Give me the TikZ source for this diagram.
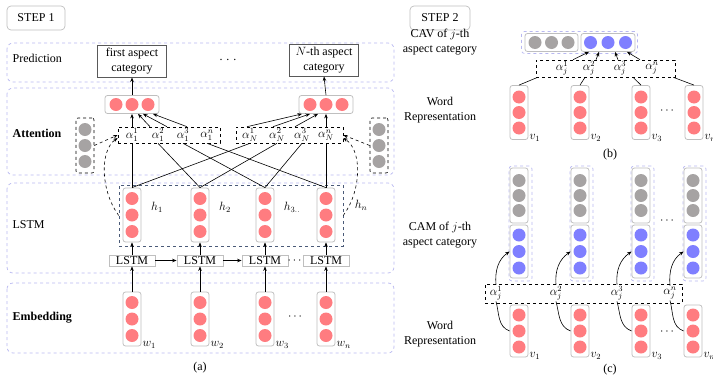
\documentclass[tikz,border=0pt]{standalone}
\usepackage{fontspec}
\setmainfont{Liberation Serif}
\usepackage{amsmath}
\usetikzlibrary{positioning,calc,arrows.meta}

\definecolor{cellred}{HTML}{FF7C80}
\definecolor{cellgray}{HTML}{A6A3A3}
\definecolor{cellblue}{HTML}{7F7FFF}
\definecolor{panelblue}{HTML}{B8B8F0}
\definecolor{boxgray}{HTML}{BFBFBF}
\definecolor{hidblue}{HTML}{4A5A78}

\newcommand{\vcells}[3]{\foreach \k in {-1,0,1}{\fill[#2] ([yshift=\k*#3]#1.center) circle (6.5pt);}}
\newcommand{\hcells}[3]{\foreach \k in {-1,0,1}{\fill[#2] ([xshift=\k*#3]#1.center) circle (6.5pt);}}

\tikzset{
  panel/.style={draw=panelblue,dashed,line width=0.7pt,rounded corners=6pt},
  outerbox/.style={draw=panelblue,dashed,line width=0.7pt,rounded corners=3pt,inner sep=0pt},
  colbox/.style={draw=boxgray,line width=0.8pt,rounded corners=2.5pt,minimum width=18pt,minimum height=54pt,inner sep=0pt},
  rowbox/.style={draw=boxgray,line width=0.8pt,rounded corners=2.5pt,minimum width=54pt,minimum height=18pt,inner sep=0pt},
  gcol/.style={draw=black,dashed,line width=0.6pt,rounded corners=2pt,minimum width=18pt,minimum height=55pt,inner sep=0pt},
  attbox/.style={draw,dashed,line width=0.6pt,minimum height=16pt,inner sep=0pt},
  stepbox/.style={draw=boxgray,line width=0.7pt,rounded corners=4pt,minimum width=58pt,minimum height=24pt},
  predbox/.style={draw=black!65,line width=1pt,align=center,inner sep=2pt,minimum width=69pt,minimum height=32pt},
  lstmbox/.style={draw=boxgray,line width=0.8pt,minimum width=46pt,minimum height=11pt,inner sep=0.5pt},
  lbl/.style={inner sep=1pt},
}

\begin{document}
\begin{tikzpicture}[x=1pt,y=-1pt,font=\fontsize{12}{14.5}\selectfont,
    >={Stealth[length=4.5pt,width=3.5pt]},line width=0.6pt]
\useasboundingbox (0,0) rectangle (713,378);

% ---- step 1
\node[stepbox] (step1) at (36,18) {STEP 1};
\draw[panel] (7,43) rectangle (394,82);
\draw[panel] (7,88) rectangle (394,175);
\draw[panel] (7,183) rectangle (394,273);
\draw[panel] (7,283) rectangle (394,353);
\node[anchor=west] (predlbl) at (9,58) {Prediction};
\node[anchor=west] (attlbl) at (9,133) {\textbf{Attention}};
\node[anchor=west] (lstmlbl) at (9,225) {LSTM};
\node[anchor=west] (emblbl) at (9,318) {\textbf{Embedding}};

\node[predbox] (p1) at (132,61) {first aspect\\category};
\node[predbox] (pN) at (324,60) {$N$-th aspect\\category};
\node (pdots) at (228,60) {.\,\,.\,\,.};

\node[rowbox] (o1) at (132,104.5) {};
\hcells{o1}{cellred}{16pt}
\node[rowbox] (oN) at (326,104.5) {};
\hcells{oN}{cellred}{16pt}
\draw[->] (o1.north) -- (p1.south);
\draw[->] (oN.north) -- (pN.south);

% attention weights
\node[attbox,minimum width=102pt] (att1) at (169,135) {};
\node[attbox,minimum width=107pt] (attN) at (289.5,135) {};
\foreach \x/\s [count=\i] in {132/1,158/2,183/3,207/n}
  \node[lbl] (a1\i) at (\x,135) {$\alpha_1^{\s}$};
\foreach \x/\s [count=\i] in {250/1,277/2,302/3,326/n}
  \node[lbl] (aN\i) at (\x,135) {$\alpha_N^{\s}$};

\node[gcol] (g1) at (85,145.5) {};
\vcells{g1}{cellgray}{16pt}
\node[gcol] (gN) at (379,145.5) {};
\vcells{gN}{cellgray}{16pt}
\draw[dashed,->] (g1.east) -- (att1.west);
\draw[dashed,->] (gN.west) -- (attN.east);

% lstm layer
\node[draw=hidblue,dashed,line width=0.6pt,minimum width=224pt,minimum height=61pt,inner sep=0pt] (hid) at (231,215.5) {};
\foreach \x/\s [count=\i] in {132/1,200/2,265/3,326/n} {
  \node[colbox] (h\i) at (\x,215) {};
  \vcells{h\i}{cellred}{16.5pt}
  \node[lstmbox] (l\i) at (\x,260.5) {LSTM};
  \node[colbox] (w\i) at (\x,319) {};
  \vcells{w\i}{cellred}{16.5pt}
  \node[anchor=base west,lbl] (wl\i) at (w\i.south east) {$w_{\s}$};
  \draw[->] (l\i) -- (h\i);
  \draw[->] (w\i) -- (l\i);
}
\node (hl1) at (157,207) {$h_1$};
\node (hl2) at (225,207) {$h_2$};
\node (hl3) at (292,207) {$h_{3..}$};
\node (hl4) at (361,205) {$h_n$};
\draw[->] (l1) -- (l2);
\draw[->] (l2) -- (l3);
\node[inner sep=0pt] (ldots) at (295.5,261) {$\cdots$};
\node (wdots) at (296,317) {$\cdots$};

% h -> weights
\foreach \i in {1,...,4} {
  \draw (h\i.north) -- (a1\i |- att1.south);
  \draw (h\i.north) -- (aN\i |- attN.south);
}
\draw[->] (a11 |- att1.north) -- (o1.south);
\foreach \i/\dx/\ex in {2/-8/6,3/-16/11,4/-20/21}
  \draw[->] ($(a1\i |- att1.north)+(\dx,0)$) -- ($(o1.south)+(\ex,0)$);
\foreach \i/\dx/\ex in {1/-3/-24,2/-4/-16,3/-7/-8,4/0/0}
  \draw[->] ($(aN\i |- attN.north)+(\dx,0)$) -- ($(oN.south)+(\ex,0)$);

\draw[dashed,->] (hid.west) .. controls (100,190) and (100,150) .. ($(att1.west)+(0,3)$);
\draw[dashed,->] (hid.east) .. controls (362,190) and (362,150) .. ($(attN.east)+(0,3)$);

\node (capa) at (200,368) {(a)};

% ---- step 2
\node[stepbox,minimum width=60pt] (step2) at (440,18) {STEP 2};
\node[align=center] (cavlbl) at (440,42) {CAV of $j$-th\\aspect category};
\node[align=center] (wordb) at (440,110) {Word\\Representation};
\node[align=center] (camlbl) at (440,235) {CAM of $j$-th\\aspect category};
\node[align=center] (wordc) at (440,334) {Word\\Representation};

% (b)
\node[outerbox,minimum width=116pt,minimum height=22pt] (cav) at (579.5,42.5) {};
\node[rowbox,minimum width=53pt] (cg) at (551.5,42.5) {};
\hcells{cg}{cellgray}{16.5pt}
\node[rowbox,minimum width=54pt] (cb) at (608,42.5) {};
\hcells{cb}{cellblue}{17.5pt}

\node[attbox,minimum width=139pt,minimum height=17pt] (attj) at (605.5,68.5) {};
\foreach \x/\s [count=\i] in {562/1,589/2,620/3,652/n}
  \node[lbl] (ab\i) at (\x,68) {$\alpha_j^{\s}$};
\foreach \i/\dx/\ex in {1/11/-19,2/7/-9,3/-2/7,4/-12/19}
  \draw[->] ($(ab\i |- attj.north)+(\dx,0)$) -- ($(cb.south)+(\ex,0)$);

\foreach \x/\s [count=\i] in {519/1,580/2,641/3,694/n} {
  \node[colbox] (vb\i) at (\x,112.5) {};
  \vcells{vb\i}{cellred}{15.5pt}
  \node[anchor=base west,lbl] (vbl\i) at (vb\i.south east) {$v_{\s}$};
}
\draw (vb1.north) -- ($(attj.south west)+(2,0)$);
\draw (vb2.north) -- ($(vb2.north |- attj.south)+(5,0)$);
\draw (vb3.north) -- ($(vb3.north |- attj.south)+(-8,0)$);
\draw (vb4.north) -- ($(attj.south east)+(-2,0)$);
\node (bdots) at (668,111) {$\cdots$};
\node (capb) at (610,155) {(b)};

% (c)
\foreach \x/\s [count=\i] in {519/1,580/2,641/3,693/n} {
  \node[outerbox,minimum width=23pt,minimum height=115pt] (cc\i) at (\x+1.5,223.5) {};
  \node[colbox,minimum height=55pt] (cgc\i) at (\x,195.5) {};
  \vcells{cgc\i}{cellgray}{15pt}
  \node[colbox,minimum height=53pt] (cbl\i) at (\x,251.5) {};
  \vcells{cbl\i}{cellblue}{16.5pt}
  \node[colbox,minimum height=52pt] (vc\i) at (\x,331) {};
  \vcells{vc\i}{cellred}{16pt}
  \node[anchor=base west,lbl] (vcl\i) at (vc\i.south east) {$v_{\s}$};
}
\node[attbox,minimum width=197pt,minimum height=19pt] (attc) at (583.5,293.5) {};
\foreach \x/\s [count=\i] in {496/1,556/2,617/3,670/n}
  \node[lbl] (ac\i) at (\x,293) {$\alpha_j^{\s}$};
\foreach \i in {1,...,4} {
  \draw[->] (ac\i.north) to[out=95,in=215] (cbl\i.west);
  \draw (ac\i.south) to[out=-75,in=160] (vc\i.west);
}
\node (cdots1) at (668,221) {$\cdots$};
\node (cdots2) at (668,332) {$\cdots$};
\node (capc) at (610,370) {(c)};
\end{tikzpicture}
\end{document}
